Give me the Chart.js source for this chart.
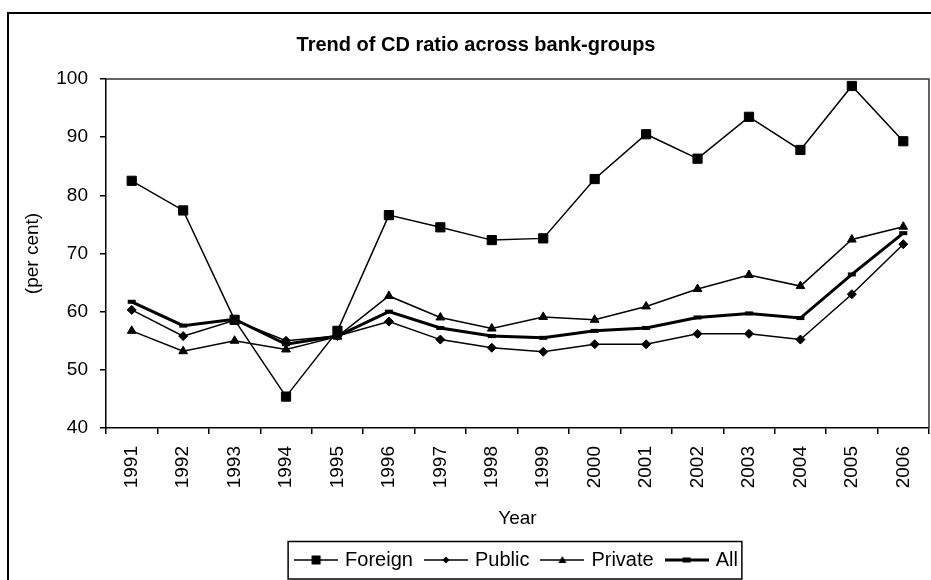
<!DOCTYPE html>
<html>
<head>
<meta charset="utf-8">
<script src="https://cdn.jsdelivr.net/npm/chart.js@4"></script>
<style>
  html, body { margin: 0; padding: 0; background: #fff; }
  canvas { display: block; }
</style>
</head>
<body>
<canvas id="c" width="931" height="580"></canvas>
<script>
// ---- data ----
const years = ['1991','1992','1993','1994','1995','1996','1997','1998','1999','2000','2001','2002','2003','2004','2005','2006'];
const foreign = [82.5, 77.4, 58.6, 45.4, 56.7, 76.6, 74.5, 72.3, 72.6, 82.8, 90.5, 86.3, 93.5, 87.8, 98.8, 89.3];
const publicBanks = [60.3, 55.8, 58.5, 55.0, 55.8, 58.3, 55.2, 53.8, 53.1, 54.4, 54.4, 56.2, 56.2, 55.2, 63.0, 71.6];
const privateBanks = [56.7, 53.2, 55.0, 53.5, 55.7, 62.7, 59.0, 57.1, 59.1, 58.6, 60.9, 63.9, 66.3, 64.4, 72.4, 74.6];
const allBanks = [61.7, 57.6, 58.7, 54.4, 55.8, 60.0, 57.2, 55.8, 55.5, 56.7, 57.2, 59.0, 59.7, 58.9, 66.4, 73.5];
const seriesNames = ['Foreign', 'Public', 'Private', 'All'];
const yTicks = { min: 40, max: 100, step: 10 };

const FONT = "'Liberation Sans', Arial, sans-serif";
Chart.defaults.font.family = FONT;
Chart.defaults.color = '#000';

// legend sample images: line with a small marker
function makeSample(kind, lw) {
  const c = document.createElement('canvas');
  c.width = 44; c.height = 14;
  const g = c.getContext('2d');
  const cy = 7, cx = 22;
  g.strokeStyle = '#000'; g.fillStyle = '#000';
  g.lineWidth = lw;
  g.beginPath(); g.moveTo(0, cy); g.lineTo(44, cy); g.stroke();
  g.beginPath();
  if (kind === 'rect') { g.fillRect(cx - 4.5, cy - 4.5, 9, 9); }
  else if (kind === 'diamond') { g.moveTo(cx, cy - 3.5); g.lineTo(cx + 3.5, cy); g.lineTo(cx, cy + 3.5); g.lineTo(cx - 3.5, cy); g.closePath(); g.fill(); }
  else if (kind === 'tri') { g.moveTo(cx, cy - 4); g.lineTo(cx + 4, cy + 3); g.lineTo(cx - 4, cy + 3); g.closePath(); g.fill(); }
  else if (kind === 'dash') { g.fillRect(cx - 4, cy - 2.5, 8, 5); }
  return c;
}
const samples = [makeSample('rect', 1.5), makeSample('diamond', 1.5), makeSample('tri', 1.5), makeSample('dash', 3)];

const bgPlugin = {
  id: 'bg',
  beforeDraw(chart) {
    const ctx = chart.ctx;
    ctx.save();
    ctx.fillStyle = '#fff';
    ctx.fillRect(0, 0, chart.width, chart.height);
    // outer chart frame
    ctx.strokeStyle = '#000';
    ctx.lineWidth = 2;
    ctx.strokeRect(8, 13, 1000, 700);
    ctx.restore();
  },
  beforeDatasetsDraw(chart) {
    const { ctx, chartArea: a } = chart;
    ctx.save();
    ctx.strokeStyle = '#333';
    ctx.lineWidth = 1.5;
    ctx.beginPath();
    ctx.moveTo(a.left, a.top);
    ctx.lineTo(a.right, a.top);
    ctx.lineTo(a.right, a.bottom);
    ctx.stroke();
    ctx.restore();
  },
  afterDraw(chart) {
    const hb = chart.legend && chart.legend.legendHitBoxes;
    if (!hb || !hb.length) return;
    const first = hb[0], last = hb[hb.length - 1];
    const left = first.left - 9;
    const right = last.left + last.width + 4;
    const top = first.top - 8.5;
    const bottom = first.top + first.height + 9;
    const ctx = chart.ctx;
    ctx.save();
    ctx.strokeStyle = '#000';
    ctx.lineWidth = 1.5;
    ctx.strokeRect(left, top, right - left, bottom - top);
    ctx.restore();
  }
};

const common = { borderColor: '#000', backgroundColor: '#000', pointBackgroundColor: '#000', pointBorderColor: '#000', tension: 0, fill: false };

new Chart(document.getElementById('c'), {
  type: 'line',
  data: {
    labels: years,
    datasets: [
      Object.assign({}, common, { label: seriesNames[0], data: foreign, borderWidth: 1.5, pointStyle: 'rect', pointRadius: 6.5, pointBorderWidth: 1 }),
      Object.assign({}, common, { label: seriesNames[1], data: publicBanks, borderWidth: 1.5, pointStyle: 'rectRot', pointRadius: 4.5, pointBorderWidth: 1 }),
      Object.assign({}, common, { label: seriesNames[2], data: privateBanks, borderWidth: 1.5, pointStyle: 'triangle', pointRadius: 5, pointBorderWidth: 1 }),
      Object.assign({}, common, { label: seriesNames[3], data: allBanks, borderWidth: 3, pointStyle: 'line', pointRadius: 4, pointBorderWidth: 4 })
    ]
  },
  options: {
    responsive: false,
    animation: false,
    devicePixelRatio: 1,
    layout: { autoPadding: false, padding: { top: 14, left: 23, right: 2, bottom: 0 } },
    plugins: {
      title: {
        display: true,
        text: 'Trend of CD ratio across bank-groups',
        font: { size: 20, weight: 'bold', family: FONT, lineHeight: 1.2 },
        color: '#000',
        padding: { top: 19, bottom: 22 }
      },
      legend: {
        position: 'bottom',
        fullSize: false,
        labels: {
          font: { size: 20, family: FONT },
          color: '#000',
          padding: 14,
          usePointStyle: true,
          pointStyleWidth: 38,
          generateLabels(chart) {
            const items = Chart.defaults.plugins.legend.labels.generateLabels(chart);
            items.forEach((it, i) => { it.pointStyle = samples[i]; });
            return items;
          }
        }
      },
      tooltip: { enabled: false }
    },
    scales: {
      x: {
        type: 'category',
        offset: true,
        grid: { display: true, drawOnChartArea: false, drawTicks: true, tickLength: 6, color: '#000', lineWidth: 1.5, offset: true },
        border: { display: true, color: '#000', width: 1.5 },
        ticks: { autoSkip: false, maxRotation: 90, minRotation: 90, padding: 12, font: { size: 19, family: FONT, lineHeight: 0.6 }, color: '#000' },
        title: { display: true, text: 'Year', font: { size: 19, family: FONT, lineHeight: 1.2 }, color: '#000', padding: { top: 4, bottom: 5.6 } },
        afterFit(scale) { scale.height = 108; }
      },
      y: {
        min: yTicks.min,
        max: yTicks.max,
        grid: { display: true, drawOnChartArea: false, drawTicks: true, tickLength: 6, color: '#000', lineWidth: 1.5 },
        border: { display: true, color: '#000', width: 1.5 },
        ticks: { stepSize: yTicks.step, padding: 12, font: { size: 19, family: FONT }, color: '#000' },
        title: { display: true, text: '(per cent)', font: { size: 19, family: FONT, lineHeight: 1 }, color: '#000', padding: 0 },
        afterFit(scale) { scale.width = 83; }
      }
    }
  },
  plugins: [bgPlugin]
});
</script>
</body>
</html>
